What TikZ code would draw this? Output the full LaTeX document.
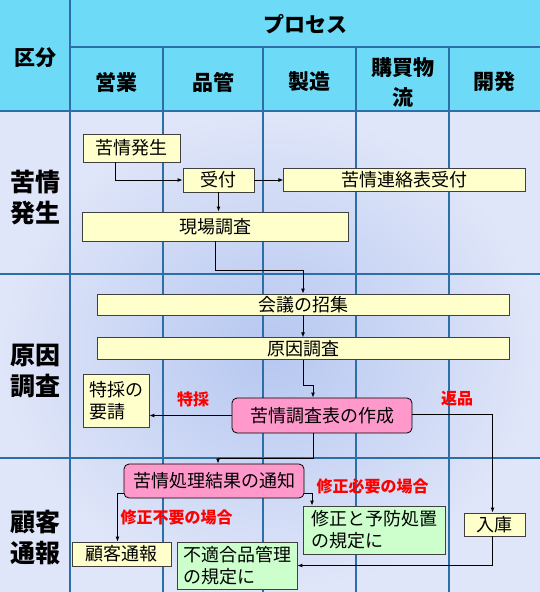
\documentclass[tikz,border=0pt]{standalone}
\usepackage{fontspec}
\newfontfamily\cjk{Noto Sans CJK JP}
\usepackage{xcolor}
\usepackage{tikz}
\usetikzlibrary{positioning, arrows.meta}
\definecolor{headcyan}{RGB}{109,219,247}
\definecolor{bodylight}{RGB}{224,230,249}
\definecolor{bodymid}{RGB}{182,199,240}
\definecolor{gridblue}{RGB}{46,110,166}
\definecolor{boxyellow}{RGB}{255,255,204}
\definecolor{boxpink}{RGB}{255,153,204}
\definecolor{boxgreen}{RGB}{204,255,204}
\definecolor{lblred}{RGB}{255,0,0}

\begin{document}
\begin{tikzpicture}[x=1pt, y=-1pt,
  box/.style={rectangle, draw=black!75, line width=0.8pt, inner sep=0pt, align=center, font=\cjk\fontsize{18}{22}\selectfont},
  ybox/.style={box, fill=boxyellow},
  pbox/.style={box, fill=boxpink, draw=black, rounded corners=5pt},
  gbox/.style={box, fill=boxgreen, align=left},
  head/.style={font=\cjk\fontsize{21}{28}\selectfont\bfseries, align=center},
  rowlbl/.style={font=\cjk\fontsize{25}{31}\selectfont\bfseries, align=center},
  redlbl/.style={font=\cjk\fontsize{16}{18}\selectfont\bfseries, text=lblred},
  grid/.style={draw=gridblue, line width=1.2pt},
  arr/.style={draw, line width=0.9pt, -{Latex[length=5pt,width=4pt]}},
  node distance=22pt and 29pt
]
\useasboundingbox (0,0) rectangle (540,592);
\fill[headcyan] (0,0) rectangle (540,111);
\shade[inner color=bodymid, outer color=bodylight] (0,111) rectangle (540,592);

\draw[grid] (70,0) -- (70,592);
\draw[grid] (70,47) -- (540,47);
\foreach \x in {163,263,356,449} \draw[grid] (\x,47) -- (\x,592);
\foreach \y in {111,274,458} \draw[grid] (0,\y) -- (540,\y);

\node[head] (kubun) at (35,58) {区分};
\node[head] (process) at (305,24) {プロセス};
\node[head] (eigyo) at (116.5,82) {営業};
\node[head] (hinkan) at (213,82) {品管};
\node[head] (seizo) at (309.5,82) {製造};
\node[head, font=\cjk\fontsize{21}{30}\selectfont\bfseries] (kobai) at (402.5,82) {購買物\\流};
\node[head] (kaihatsu) at (494.5,82) {開発};

\node[rowlbl] (row1) at (35,198) {苦情\\発生};
\node[rowlbl] (row2) at (35,371) {原因\\調査};
\node[rowlbl] (row3) at (35,538) {顧客\\通報};

\node[ybox, minimum width=97pt, minimum height=28pt] (hassei) at (131.5,148) {苦情発生};
\node[ybox, minimum width=71pt, minimum height=24pt] (uketsuke) at (218.5,180) {受付};
\node[ybox, minimum width=242pt, minimum height=23pt, right=of uketsuke] (renraku) {苦情連絡表受付};
\node[ybox, minimum width=266pt, minimum height=29pt] (genba) at (215,226.5) {現場調査};
\node[ybox, minimum width=412pt, minimum height=21pt] (kaigi) at (303,304.5) {会議の招集};
\node[ybox, minimum width=412pt, minimum height=22pt, below=22pt of kaigi] (genin) {原因調査};
\node[ybox, align=left, minimum width=66pt, minimum height=53pt] (tokusai) at (116,400.5) {特採の\\要請};
\node[pbox, minimum width=180pt, minimum height=35pt] (chousa) at (322,415.5) {苦情調査表の作成};
\node[pbox, minimum width=180pt, minimum height=34pt] (tsuchi) at (214,481) {苦情処理結果の通知};
\node[ybox, minimum width=99pt, minimum height=24pt] (kokyaku) at (121.5,554) {顧客通報};
\node[gbox, minimum width=120pt, minimum height=47pt] (futekigo) at (237,565.5) {不適合品管理\\の規定に};
\node[gbox, minimum width=142pt, minimum height=48pt] (shusei) at (374,530) {修正と予防処置\\の規定に};
\node[ybox, minimum width=61pt, minimum height=23pt] (nyuko) at (494.5,524.5) {入庫};

\node[redlbl] (lbltokusai) at (193,399) {特採};
\node[redlbl] (lblhenpin) at (457,399) {返品};
\node[redlbl, anchor=west] (lblhitsuyo) at (313,486) {修正必要の場合};
\node[redlbl, anchor=west] (lblfuyo) at (117,517) {修正不要の場合};

\draw[arr] ([xshift=-16pt]hassei.south) |- (uketsuke.west);
\draw[arr] (uketsuke.east) -- (renraku.west);
\draw[arr] (uketsuke.south) -- (uketsuke.south |- genba.north);
\draw[arr] (genba.south) -- ++(0,29) -| (kaigi.north);
\draw[arr] (kaigi.south) -- (genin.north);
\draw[arr] (genin.south) -- ++(0,25) -| ([xshift=-9pt]chousa.north);
\draw[arr] (chousa.west) -- (chousa.west -| tokusai.east);
\draw[arr] ([yshift=1pt]chousa.east) -| ([xshift=-2pt]nyuko.north);
\draw[arr] ([xshift=-9pt]chousa.south) -- ++(0,25) -| ([xshift=4pt]tsuchi.north);
\draw[arr] ([yshift=-12pt]tsuchi.west) -| ([xshift=-4pt]kokyaku.north);
\draw[arr] ([yshift=-12pt]tsuchi.east) -| ([xshift=-62pt]shusei.north);
\draw[arr] ([xshift=-2pt]nyuko.south) |- (futekigo.east);
\end{tikzpicture}
\end{document}
